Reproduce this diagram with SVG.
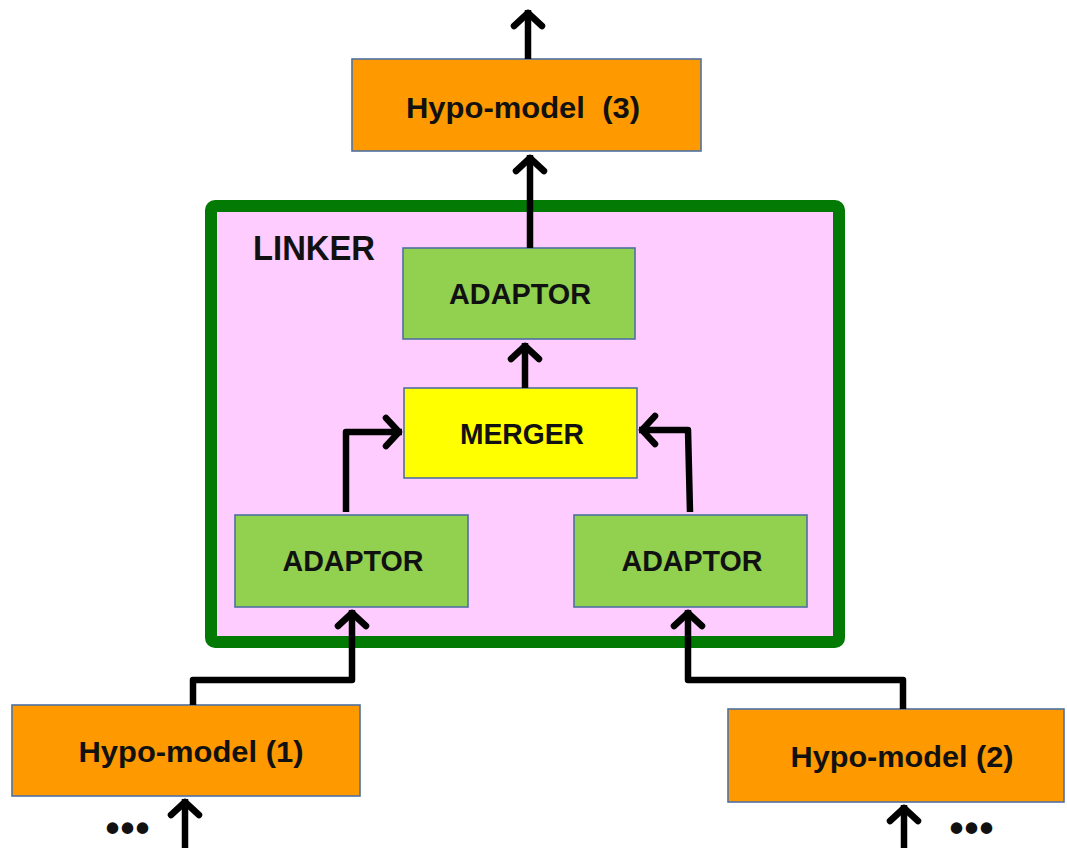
<svg xmlns="http://www.w3.org/2000/svg" width="1067" height="848" viewBox="0 0 1067 848">
<style>
  .box { stroke: #4f71a0; stroke-width: 1.6; }
  .hypo { fill: #ff9900; }
  .adapt { fill: #92d050; }
  .merge { fill: #ffff00; }
  .lbl { font-family: "Liberation Sans", Arial, sans-serif; font-weight: bold; fill: #111; text-anchor: middle; }
  .conn { fill: none; stroke: #000; stroke-width: 6.5; stroke-linejoin: round; }
</style>
<defs>
  <marker id="arr" markerUnits="userSpaceOnUse" viewBox="-20 -20 40 40" markerWidth="40" markerHeight="40" refX="3" refY="0" orient="auto">
    <path d="M-13,-14 L0,0 L-13,14" fill="none" stroke="#000" stroke-width="6.5" stroke-linecap="round" stroke-linejoin="round"/>
  </marker>
</defs>
<rect width="1067" height="848" fill="#ffffff"/>

<g id="linker">
  <rect x="211" y="206" width="628" height="436" rx="4" fill="#ffccff" stroke="#037a03" stroke-width="12"/>
  <text class="lbl" x="314" y="260" font-size="35" textLength="122" lengthAdjust="spacingAndGlyphs">LINKER</text>
</g>

<g id="hypo3">
  <rect class="box hypo" x="352" y="59" width="349" height="92"/>
  <text class="lbl" x="523" y="118" font-size="29" xml:space="preserve" textLength="234" lengthAdjust="spacingAndGlyphs">Hypo-model  (3)</text>
</g>

<g id="adaptor-top">
  <rect class="box adapt" x="403" y="248" width="232" height="91"/>
  <text class="lbl" x="520" y="304" font-size="29" textLength="142" lengthAdjust="spacingAndGlyphs">ADAPTOR</text>
</g>

<g id="merger">
  <rect class="box merge" x="404" y="388" width="233" height="90"/>
  <text class="lbl" x="522" y="444" font-size="29" textLength="124" lengthAdjust="spacingAndGlyphs">MERGER</text>
</g>

<g id="adaptor-left">
  <rect class="box adapt" x="235" y="515" width="233" height="92"/>
  <text class="lbl" x="353" y="571" font-size="29" textLength="141" lengthAdjust="spacingAndGlyphs">ADAPTOR</text>
</g>

<g id="adaptor-right">
  <rect class="box adapt" x="574" y="515" width="233" height="92"/>
  <text class="lbl" x="692" y="571" font-size="29" textLength="141" lengthAdjust="spacingAndGlyphs">ADAPTOR</text>
</g>

<g id="hypo1">
  <rect class="box hypo" x="12" y="705" width="348" height="91"/>
  <text class="lbl" x="191" y="762" font-size="30" textLength="225" lengthAdjust="spacingAndGlyphs">Hypo-model (1)</text>
</g>

<g id="hypo2">
  <rect class="box hypo" x="728" y="709" width="336" height="93"/>
  <text class="lbl" x="902" y="767" font-size="30" textLength="223" lengthAdjust="spacingAndGlyphs">Hypo-model (2)</text>
</g>

<g id="dots">
  <text class="lbl" x="128" y="842" font-size="40" letter-spacing="1">•••</text>
  <text class="lbl" x="972" y="842" font-size="40" letter-spacing="1">•••</text>
</g>

<g id="connectors">
  <path class="conn" d="M528,59 V10" marker-end="url(#arr)"/>
  <path class="conn" d="M530,248 V155" marker-end="url(#arr)"/>
  <path class="conn" d="M525,388 V343" marker-end="url(#arr)"/>
  <path class="conn" d="M346,512 V432 H402" marker-end="url(#arr)"/>
  <path class="conn" d="M690,512 L688,430 H639" marker-end="url(#arr)"/>
  <path class="conn" d="M193,705 V680 H352 V610" marker-end="url(#arr)"/>
  <path class="conn" d="M903,709 V680 H688 V610" marker-end="url(#arr)"/>
  <path class="conn" d="M185,848 V799" marker-end="url(#arr)"/>
  <path class="conn" d="M904,848 V805" marker-end="url(#arr)"/>
</g>
</svg>
